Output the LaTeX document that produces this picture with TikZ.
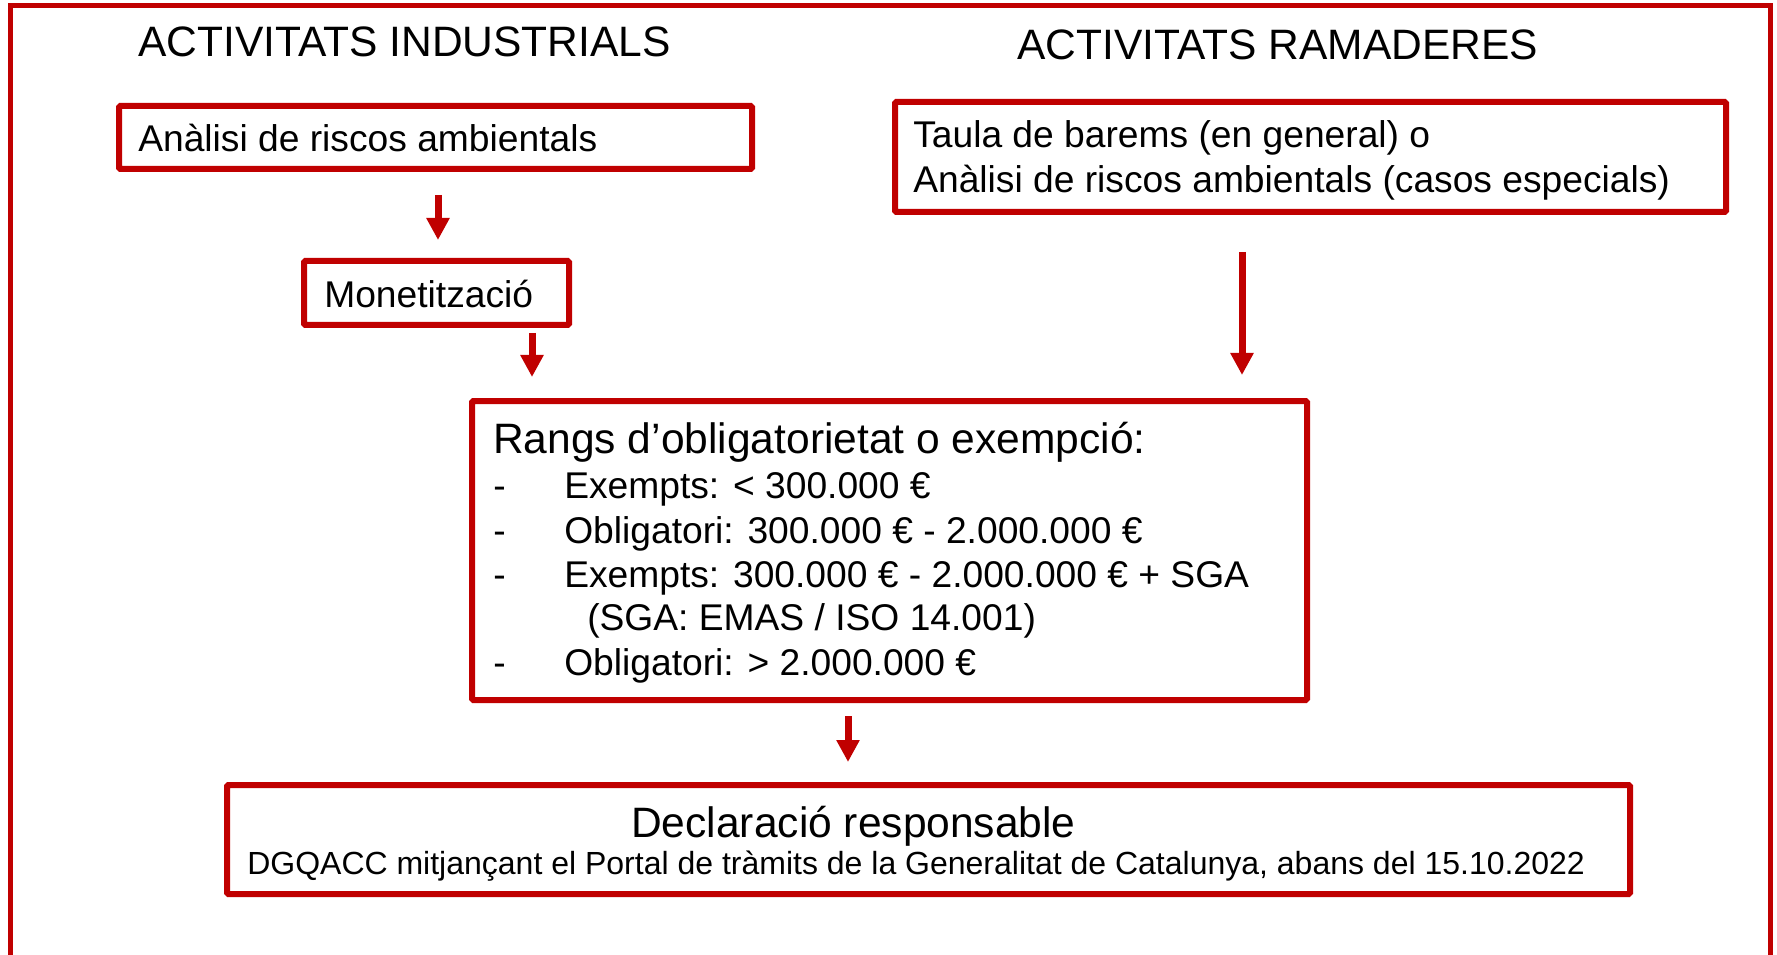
\documentclass[tikz,border=0pt]{standalone}
\usepackage{fontspec}
\setmainfont{Liberation Sans}
\usetikzlibrary{arrows.meta}
\definecolor{dred}{RGB}{192,0,0}
\tikzset{
  box/.style={draw=dred, line width=4.5pt, rounded corners=1pt, minimum width=#1, inner sep=0pt, outer sep=0pt},
  flow/.style={draw=dred, line width=5.25pt, -{Triangle[width=16.5pt,length=16.5pt]}, color=dred},
  big/.style={anchor=base west, inner sep=0pt, font=\fontsize{31.9}{38.3}\selectfont},
  mid/.style={anchor=base west, inner sep=0pt, font=\fontsize{27.9}{33.5}\selectfont},
  small/.style={anchor=base west, inner sep=0pt, font=\fontsize{24}{28.8}\selectfont},
}
\begin{document}
\begin{tikzpicture}[x=0.75pt, y=-0.75pt]
\useasboundingbox (0,0) rectangle (1777,955);
% outer frame (open at the bottom)
\draw[dred, line width=3.75pt] (10,955) -- (10,5.5) -- (1770,5.5) -- (1770,955);

% titles
\node[big] (t1) at (138,57) {ACTIVITATS INDUSTRIALS};
\node[big] (t2) at (1017,60) {ACTIVITATS RAMADERES};

% boxes
\node[box=474.75pt, minimum height=47.25pt] (b1) at (435.5,137.5) {};
\node[box=198.75pt, minimum height=48pt] (b2) at (436.5,293) {};
\node[box=623.25pt, minimum height=82.5pt] (b3) at (1310.5,157) {};
\node[box=626.25pt, minimum height=224.25pt] (b4) at (889.5,550.5) {};
\node[box=1052.25pt, minimum height=81.75pt] (b5) at (928.5,839.5) {};

% texts
\node[mid] (x1) at (138,152) {Anàlisi de riscos ambientals};
\node[mid] (x2) at (324,308) {Monetització};
\node[mid] (x3a) at (913,148) {Taula de barems (en general) o};
\node[mid] (x3b) at (913,193) {Anàlisi de riscos ambientals (casos especials)};
\node[big] (x4) at (493,453) {Rangs d’obligatorietat o exempció:};
\node[mid] (d1) at (493,498) {-};
\node[mid] (l1) at (564,498) {Exempts: < 300.000 €};
\node[mid] (d2) at (493,543) {-};
\node[mid] (l2) at (564,543) {Obligatori: 300.000 € - 2.000.000 €};
\node[mid] (d3) at (493,587) {-};
\node[mid] (l3) at (564,587) {Exempts: 300.000 € - 2.000.000 € + SGA};
\node[mid] (l3b) at (587,630) {(SGA: EMAS / ISO 14.001)};
\node[mid] (d4) at (493,675) {-};
\node[mid] (l4) at (564,675) {Obligatori: > 2.000.000 €};
\node[big] (x5) at (631,837) {Declaració responsable};
\node[small] (x6) at (247,874) {DGQACC mitjançant el Portal de tràmits de la Generalitat de Catalunya, abans del 15.10.2022};

% arrows
\coordinate (a1s) at (438,195); \coordinate (a1e) at (438,240);
\coordinate (a2s) at (532,333); \coordinate (a2e) at (532,377);
\coordinate (a3s) at (1242,252); \coordinate (a3e) at (1242,375);
\coordinate (a4s) at (848,716); \coordinate (a4e) at (848,762);
\draw[flow] (a1s) -- (a1e);
\draw[flow] (a2s) -- (a2e);
\draw[flow] (a3s) -- (a3e);
\draw[flow] (a4s) -- (a4e);
\end{tikzpicture}
\end{document}
